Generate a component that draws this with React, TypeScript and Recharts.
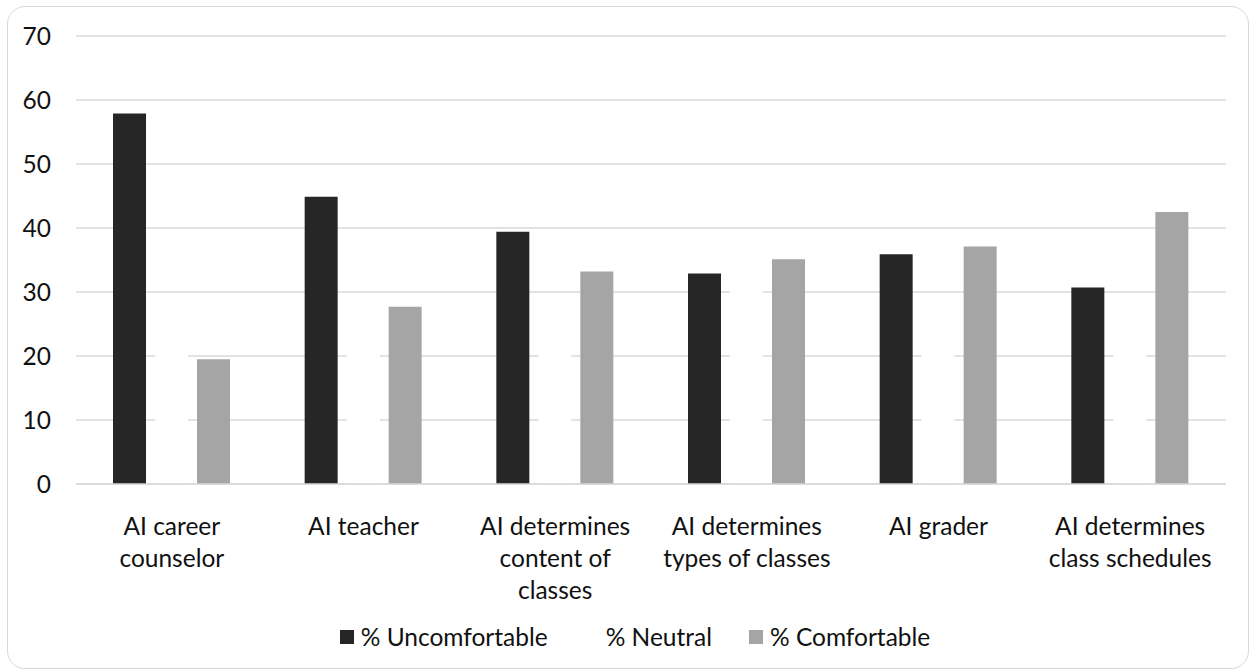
import React from 'react';
import { BarChart, Bar, XAxis, YAxis, CartesianGrid, Legend } from 'recharts';

const categories = [
  'AI career\ncounselor',
  'AI teacher',
  'AI determines\ncontent of\nclasses',
  'AI determines\ntypes of classes',
  'AI grader',
  'AI determines\nclass schedules'
];
const uncomfortable = [57.9, 44.9, 39.4, 32.9, 35.9, 30.7];
const neutral = [22.6, 27.4, 27.4, 32.0, 27.0, 26.8];
const comfortable = [19.5, 27.7, 33.2, 35.1, 37.1, 42.5];
const yTicks = [0, 10, 20, 30, 40, 50, 60, 70];

const SERIES = [
  { key: 'uncomfortable', name: '% Uncomfortable', color: '#262626' },
  { key: 'neutral', name: '% Neutral', color: '#ffffff' },
  { key: 'comfortable', name: '% Comfortable', color: '#a5a5a5' }
];

const data = categories.map((c, i) => ({
  category: c,
  uncomfortable: uncomfortable[i],
  neutral: neutral[i],
  comfortable: comfortable[i]
}));

const FONT = 'Lato, "Liberation Sans", sans-serif';
const TEXT = '#111111';
const FS = 24.5;

const CategoryTick = (props: any) => {
  const { x, y, payload } = props;
  const lines = String(payload.value).split('\n');
  return (
    <g transform={`translate(${x},${y})`}>
      {lines.map((line: string, i: number) => (
        <text
          key={i}
          x={0}
          y={i * 32}
          dy={43}
          textAnchor="middle"
          fill={TEXT}
          fontSize={FS}
          fontFamily={FONT}
        >
          {line}
        </text>
      ))}
    </g>
  );
};

const LegendContent = () => (
  <div
    style={{
      display: 'flex',
      justifyContent: 'center',
      paddingLeft: 44,
      fontFamily: FONT,
      fontSize: FS,
      color: TEXT
    }}
  >
    {SERIES.map((s) => (
      <div key={s.key} style={{ display: 'flex', alignItems: 'center', margin: '0 18.5px' }}>
        <span style={{ width: 14, height: 14, background: s.color, display: 'inline-block', marginRight: 7 }} />
        <span>{s.name}</span>
      </div>
    ))}
  </div>
);

export default function App() {
  return (
    <div style={{ position: 'absolute', left: 0, top: 0, width: 1253, height: 672, background: '#fff' }}>
      <div
        style={{
          position: 'absolute',
          left: 7,
          top: 6,
          width: 1242,
          height: 663,
          border: '1px solid #d9d9d9',
          borderRadius: 18,
          boxSizing: 'border-box'
        }}
      />
      <BarChart
        width={1253}
        height={672}
        data={data}
        margin={{ top: 36, right: 27, left: 0, bottom: 0 }}
        barCategoryGap={37}
        barGap={9}
        style={{ position: 'absolute', left: 0, top: 0 }}
      >
        <CartesianGrid vertical={false} stroke="#d9d9d9" strokeWidth={1.3} />
        <XAxis
          dataKey="category"
          axisLine={{ stroke: '#d9d9d9', strokeWidth: 1.3 }}
          tickLine={false}
          interval={0}
          height={159}
          tick={<CategoryTick />}
        />
        <YAxis
          width={76}
          domain={[0, 70]}
          ticks={yTicks}
          axisLine={false}
          tickLine={false}
          tickSize={0}
          tickMargin={25}
          tick={{ fill: TEXT, fontSize: FS, fontFamily: FONT }}
        />
        <Legend
          verticalAlign="bottom"
          content={<LegendContent />}
          wrapperStyle={{ top: 622 }}
        />
        {SERIES.map((s) => (
          <Bar key={s.key} dataKey={s.key} name={s.name} fill={s.color} isAnimationActive={false} />
        ))}
      </BarChart>
    </div>
  );
}
